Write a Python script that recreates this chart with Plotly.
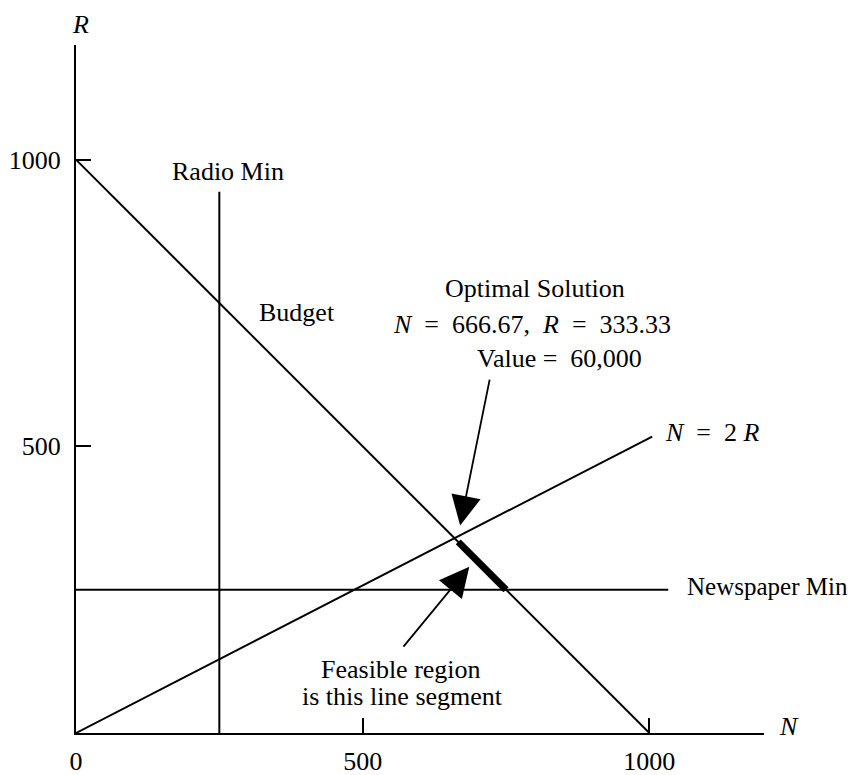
import plotly.graph_objects as go

# Constraint lines (N, R)
budget_N = [0, 1000]
budget_R = [1000, 0]
radio_min_N = [250, 250]
radio_min_R = [0, 944]
news_min_N = [0, 1033]
news_min_R = [250, 250]
ratio_N = [0, 1005]
ratio_R = [0, 517]
feasible_N = [666.67, 750]
feasible_R = [333.33, 250]

x_tick_vals = [0, 500, 1000]
x_tick_text = ["0", "500", "1000"]
y_tick_vals = [500, 1000]
y_tick_text = ["500", "1000"]

FONT = "Liberation Serif, Times New Roman, serif"
FS = 26
BLACK = "black"

fig = go.Figure()

def line(xs, ys, w=2):
    fig.add_trace(go.Scatter(x=xs, y=ys, mode="lines",
                             line=dict(color=BLACK, width=w),
                             hoverinfo="skip", showlegend=False))

line(budget_N, budget_R)
line(radio_min_N, radio_min_R)
line(news_min_N, news_min_R)
line(ratio_N, ratio_R)
line(feasible_N, feasible_R, w=7)

def text(x, y, s, xanchor="center", xref="x", yref="y", size=FS):
    fig.add_annotation(x=x, y=y, xref=xref, yref=yref, text=s, showarrow=False,
                       xanchor=xanchor, yanchor="middle",
                       font=dict(family=FONT, size=size, color=BLACK))

nb = "\u00a0"
# axis titles placed beyond the plotting range -> paper coordinates
fig.add_annotation(x=7 / 1200, y=1.0, xref="paper", yref="paper",
                   text="<i>R</i>", showarrow=False, xanchor="center",
                   yanchor="bottom", yshift=8, height=24, borderpad=0,
                   font=dict(family=FONT, size=FS, color=BLACK))
text(1222 / 1200, 12 / 1200, "<i>N</i>", xanchor="left", xref="paper", yref="paper")
text(265, 979, "Radio Min")
text(385, 733, "Budget")
text(801, 776, "Optimal Solution")
text(795, 713, f"<i>N</i>{nb}{nb}={nb}{nb}666.67,{nb}{nb}<i>R</i>{nb}{nb}={nb}{nb}333.33")
text(844, 654, f"Value{nb}={nb}{nb}60,000")
text(1024, 525, f"<i>N</i>{nb}{nb}={nb}{nb}2{nb}<i>R</i>", xanchor="left")
text(1062 / 1200, 255 / 1200, "Newspaper Min", xanchor="left",
     xref="paper", yref="paper", size=25)
text(567, 110, "Feasible region")
text(570, 63, "is this line segment")

def arrow(x0, y0, x1, y1):
    fig.add_annotation(x=x1, y=y1, ax=x0, ay=y0, xref="x", yref="y",
                       axref="x", ayref="y", text="", showarrow=True,
                       arrowhead=2, arrowsize=3.3, arrowwidth=1.8,
                       arrowcolor=BLACK)

arrow(722, 619, 670, 362)
arrow(569, 148, 686, 290)

axis_common = dict(
    showline=True, linecolor=BLACK, linewidth=2, mirror=False,
    showgrid=False, zeroline=False,
    ticks="inside", ticklen=15, tickwidth=2, tickcolor=BLACK,
    tickfont=dict(family=FONT, size=FS, color=BLACK),
    range=[0, 1200], fixedrange=True,
)

fig.update_layout(
    width=851, height=767,
    margin=dict(l=68, r=95, t=37, b=42, autoexpand=False),
    paper_bgcolor="white", plot_bgcolor="white",
    xaxis=dict(**axis_common, tickvals=x_tick_vals, ticktext=x_tick_text,
               ticklabelstandoff=4),
    yaxis=dict(**axis_common, tickvals=y_tick_vals, ticktext=y_tick_text,
               ticklabelstandoff=8),
    showlegend=False,
)

fig.write_html("out.html")
